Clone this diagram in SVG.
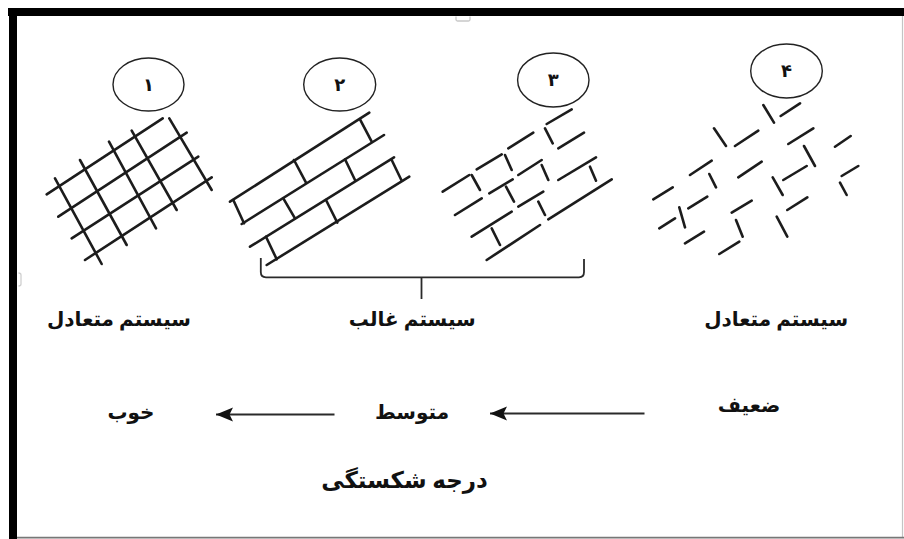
<svg xmlns="http://www.w3.org/2000/svg" width="904" height="539" viewBox="0 0 904 539">
  <style>
    .hatch { fill: none; stroke: #1e1e1e; stroke-width: 2.6; stroke-linecap: round; }
    .badge { fill: #fff; stroke: #222; stroke-width: 1.4; }
    .num { font-family: "Liberation Serif", "DejaVu Sans", serif; font-size: 18px; font-weight: bold; fill: #111; text-anchor: middle; }
    .lbl { font-family: "Liberation Serif", "DejaVu Sans", serif; font-size: 20px; font-weight: bold; fill: #111; text-anchor: middle; }
    .title { font-family: "Liberation Serif", "DejaVu Sans", serif; font-size: 23px; font-weight: bold; fill: #111; text-anchor: middle; }
    .link { fill: none; stroke: #2a2a2a; stroke-width: 1.8; }
  </style>
  <defs>
    <filter id="soft" x="-5%" y="-5%" width="110%" height="110%">
      <feGaussianBlur stdDeviation="0.45"/>
    </filter>
    <marker id="head" markerUnits="userSpaceOnUse" markerWidth="22" markerHeight="18" refX="18" refY="8" orient="auto">
      <path d="M18,8 L1,1 L4.5,8 L1,15 Z" fill="#111"/>
    </marker>
  </defs>

  <!-- page frame -->
  <rect x="0" y="0" width="904" height="539" fill="#fff"/>
  <rect x="8" y="8" width="896" height="8" fill="#000"/>
  <rect x="9" y="8" width="8" height="531" fill="#000"/>
  <line x1="902.5" y1="16" x2="902.5" y2="537" stroke="#c4c4c4" stroke-width="1.2"/>
  <line x1="17" y1="537.6" x2="904" y2="537.6" stroke="#777" stroke-width="1.6"/>
  <path d="M456,16.5 v3 q0,1.5 1.5,1.5 h11 q1.5,0 1.5,-1.5 v-3" fill="none" stroke="#c8c8c8" stroke-width="1.3"/>
  <path d="M18.5,273 q2.5,0 2.5,2 v9 q0,2 -2.5,2" fill="none" stroke="#d0d0d0" stroke-width="1.3"/>

  <!-- 1: regular grid -->
  <g id="fig1">
    <g class="hatch" filter="url(#soft)">
      <path d="M46.7,194.3 L162.7,118.3 M58.3,216.7 L186.7,132.7 M71.7,238.3 L198.3,156.7 M85,260 L211.7,177.3"/>
      <path d="M55,178.3 L101.7,264 M80,160 L126.7,245 M109,141.7 L156,228.3 M131.7,130.7 L176.7,210 M169.3,118.3 L211.7,190"/>
    </g>
    <ellipse class="badge" cx="148.5" cy="84.5" rx="35.5" ry="26.5"/>
    <text class="num" x="148.5" y="91">۱</text>
  </g>

  <!-- 2: continuous sets with staggered cross joints -->
  <g id="fig2">
    <g class="hatch" filter="url(#soft)">
      <path d="M230,201.7 L369.3,112.7 M241.7,224 L384,135 M250,246.7 L394,157.3 M266.7,265 L409.3,176.7"/>
      <path d="M233.3,200 L244,223.3 M294,160 L306,182.7 M360,119.3 L371.7,141.7"/>
      <path d="M283.3,198.3 L295,218.3 M345,159.3 L355,180"/>
      <path d="M266,236.7 L276.7,259.3 M326,200 L337.3,222.7 M391.7,160 L401.7,180.7"/>
    </g>
    <ellipse class="badge" cx="339.7" cy="84.5" rx="36" ry="26.5"/>
    <text class="num" x="339.7" y="91">۲</text>
  </g>

  <!-- 3: broken sets -->
  <g id="fig3">
    <g class="hatch" filter="url(#soft)">
      <path d="M546.7,124 L571.7,109.3 M558.3,148.3 L584,132.7 M508.3,148.3 L533.3,132.7 M476.7,169.3 L501.7,154.3 M442.7,191.7 L469.3,175"/>
      <path d="M518.3,175 L541.7,160 M489.3,193.3 L512.7,179.3 M455,215 L481.7,198.3 M518.3,206.7 L543.3,191.7 M558.3,180 L596,157.3"/>
      <path d="M471.7,236.7 L511.7,211.7 M548.3,219.3 L611.7,179.3 M486.7,260 L540,225"/>
      <path d="M545,128.3 L552.7,143.3 M505,155 L511.7,170 M471.7,175 L480,190 M541.7,165 L548.3,180 M506,186.7 L514,201.7 M538.3,201.7 L545,215 M590,166.7 L596,180.7 M491.7,228.3 L500,245"/>
    </g>
    <ellipse class="badge" cx="553.3" cy="80" rx="35.7" ry="27"/>
    <text class="num" x="553.3" y="86">۳</text>
  </g>

  <!-- 4: scattered short fractures -->
  <g id="fig4">
    <g class="hatch" filter="url(#soft)">
      <path d="M780.7,116 L800,103.3 M735,146 L758.3,130.7 M788.3,144 L813.3,128.3 M835,146.7 L850.7,136 M690,175 L711.7,160.7 M738.3,177.3 L761.7,161.7 M841.7,176 L858.3,166 M783.3,180 L806.7,166"/>
      <path d="M653.3,199.3 L672.7,187.3 M688.3,208.3 L707.3,196.7 M731.7,212.7 L751.7,200.7 M787.3,210 L807.3,197.3 M659.3,228.3 L675,218.3 M685,243.3 L704,231.7 M719.3,254 L739.3,241.7"/>
      <path d="M763.3,105 L774,122.7 M714,128.3 L726,146 M804,146 L815,166 M709.3,174 L716,187.3 M772.7,177.3 L782.7,195 M840,182.7 L846.7,195 M679.3,207.3 L685,227.3 M736,220 L742.7,236.7 M776.7,216.7 L787.3,236.7"/>
    </g>
    <ellipse class="badge" cx="786.5" cy="71" rx="35.8" ry="27"/>
    <text class="num" x="786.5" y="77">۴</text>
  </g>

  <!-- connectors: grouping brace and direction arrows -->
  <g id="connectors">
    <path class="link" d="M260.8,258 V272 Q260.8,277.3 266,277.3 H579 Q584,277.3 584,272 V259"/>
    <path class="link" d="M421.5,277.3 V299"/>
    <line class="link" x1="644.5" y1="413.5" x2="490" y2="413.5" marker-end="url(#head)"/>
    <line class="link" x1="334.5" y1="414.5" x2="216" y2="414.5" marker-end="url(#head)"/>
  </g>

  <!-- labels -->
  <g id="label-balanced-left"><text class="lbl" x="119" y="326">سیستم متعادل</text></g>
  <g id="label-dominant"><text class="lbl" x="412.3" y="326">سیستم غالب</text></g>
  <g id="label-balanced-right"><text class="lbl" x="776.2" y="326">سیستم متعادل</text></g>
  <g id="label-good"><text class="lbl" x="131" y="419">خوب</text></g>
  <g id="label-medium"><text class="lbl" x="412" y="419">متوسط</text></g>
  <g id="label-weak"><text class="lbl" x="749" y="412">ضعیف</text></g>
  <g id="label-degree"><text class="title" x="404.5" y="488">درجه شکستگی</text></g>
</svg>
